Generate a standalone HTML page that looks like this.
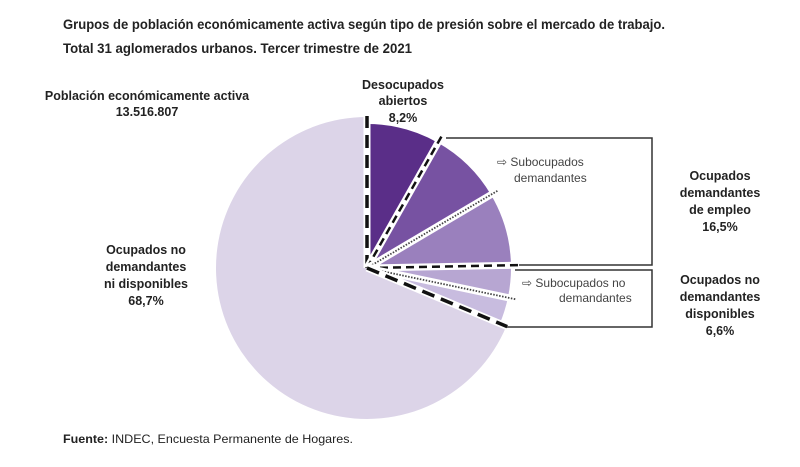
<!DOCTYPE html>
<html><head><meta charset="utf-8">
<style>
body{margin:0;background:#fff;width:800px;height:462px;overflow:hidden;font-family:"Liberation Sans",Arial,sans-serif}
svg text{font-family:"Liberation Sans",Arial,sans-serif}
</style></head><body>
<svg id="chart" width="800" height="462" viewBox="0 0 800 462" xmlns="http://www.w3.org/2000/svg">
<text x="63" y="29" font-size="13.5" font-weight="bold" fill="#222" textLength="602" lengthAdjust="spacingAndGlyphs">Grupos de población económicamente activa según tipo de presión sobre el mercado de trabajo.</text>
<text x="63" y="53" font-size="13.5" font-weight="bold" fill="#222" textLength="349" lengthAdjust="spacingAndGlyphs">Total 31 aglomerados urbanos. Tercer trimestre de 2021</text>
<g font-size="12.5" font-weight="bold" fill="#222" text-anchor="middle">
<text x="147" y="100">Población económicamente activa</text><text x="147" y="116">13.516.807</text></g>
<g font-size="12.5" font-weight="bold" fill="#222" text-anchor="middle">
<text x="403" y="89">Desocupados</text><text x="403" y="105">abiertos</text><text x="403" y="122">8,2%</text></g>
<g font-size="12.5" font-weight="bold" fill="#222" text-anchor="middle">
<text x="146" y="254">Ocupados no</text><text x="146" y="271">demandantes</text><text x="146" y="288">ni disponibles</text><text x="146" y="305">68,7%</text></g>
<g font-size="12.5" font-weight="bold" fill="#222" text-anchor="middle">
<text x="720" y="180">Ocupados</text><text x="720" y="197">demandantes</text><text x="720" y="214">de empleo</text><text x="720" y="231">16,5%</text></g>
<g font-size="12.5" font-weight="bold" fill="#222" text-anchor="middle">
<text x="720" y="284">Ocupados no</text><text x="720" y="301">demandantes</text><text x="720" y="318">disponibles</text><text x="720" y="335">6,6%</text></g>
<g fill="none" stroke="#333" stroke-width="1.5">
<polyline points="446,138 652,138 652,265 515,265"/></g>
<g fill="none" stroke="#333" stroke-width="1.5">
<polyline points="515,270 652,270 652,327 502,327"/></g>
<g font-size="12" fill="#444">
<text x="497" y="166">⇨ Subocupados</text><text x="514" y="182">demandantes</text></g>
<g font-size="12" fill="#444">
<text x="522" y="287">⇨ Subocupados no</text><text x="559" y="302">demandantes</text></g>
<text x="63" y="443" font-size="12" fill="#222" textLength="290" lengthAdjust="spacingAndGlyphs"><tspan font-weight="bold">Fuente:</tspan> INDEC, Encuesta Permanente de Hogares.</text>
<g id="slices"></g>
</svg>
<script>
const categories=["Desocupados abiertos","Subocupados demandantes","Ocupados demandantes (no sub)","Subocupados no demandantes","Ocupados no demandantes disponibles","Ocupados no demandantes ni disponibles"];
const values=[8.2,8.3,8.2,3.6,3.0,68.7];
const colors=["#5a2e88","#7752a2","#9a80bd","#b7a6d2","#c8bcdf","#dcd4e8"];
const dividers=["dashBig","dash","dot","dash","dot","dashBig"];
const cx=367,cy=268,rSmall=144,rBig=151;
const g=document.getElementById('slices');
const NS="http://www.w3.org/2000/svg";
const total=values.reduce((a,b)=>a+b,0);
function pt(a,r){return [cx+r*Math.sin(a),cy-r*Math.cos(a)];}
let a0=0;const bounds=[0];
values.forEach((v,i)=>{
 const a1=a0+v/total*2*Math.PI;
 const r=i===values.length-1?rBig:rSmall;
 const p0=pt(a0,r),p1=pt(a1,r);
 const large=(a1-a0)>Math.PI?1:0;
 const p=document.createElementNS(NS,'path');
 p.setAttribute('d',`M${cx},${cy}L${p0[0]},${p0[1]}A${r},${r} 0 ${large} 1 ${p1[0]},${p1[1]}Z`);
 p.setAttribute('fill',colors[i]);
 
 
 g.appendChild(p);
 a0=a1;bounds.push(a1);
});
bounds.slice(0,values.length).forEach((a,i)=>{
 const e=pt(a,rBig+1);
 const w=document.createElementNS(NS,'line');
 w.setAttribute('x1',cx);w.setAttribute('y1',cy);w.setAttribute('x2',e[0]);w.setAttribute('y2',e[1]);
 w.setAttribute('stroke','#fff');w.setAttribute('stroke-width','7');
 
 
 g.appendChild(w);
 const l=document.createElementNS(NS,'line');
 l.setAttribute('x1',cx);l.setAttribute('y1',cy);l.setAttribute('x2',e[0]);l.setAttribute('y2',e[1]);
 l.setAttribute('stroke','#111');
 const t=dividers[i];
 if(t==='dashBig'){l.setAttribute('stroke-width','3.5');l.setAttribute('stroke-dasharray','13 7');}
 else if(t==='dash'){l.setAttribute('stroke-width','2.5');l.setAttribute('stroke-dasharray','8 5');}
 else {l.setAttribute('stroke-width','1.8');l.setAttribute('stroke-dasharray','1.5 1.5');l.setAttribute('stroke','#444');}
 
 
 g.appendChild(l);
});
</script>
</body></html>
